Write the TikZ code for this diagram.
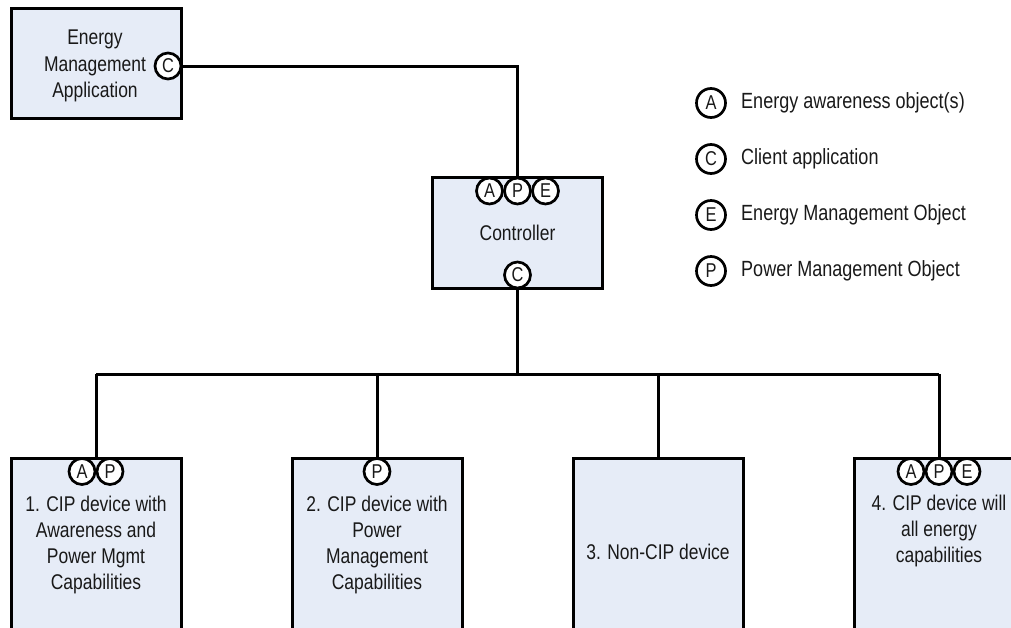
\documentclass[tikz,border=0pt]{standalone}
\usepackage{fontspec}
\setmainfont{Liberation Sans}[FakeStretch=0.82]
\definecolor{boxfill}{RGB}{230,236,247}
\definecolor{ink}{RGB}{25,25,25}
\tikzset{
  box/.style={draw=black, line width=3pt, fill=boxfill, minimum width=170pt, inner sep=0pt},
  obj/.style={circle, draw=black, line width=2.7pt, fill=white, minimum size=26pt, inner sep=0pt, text=ink, font=\fontsize{20}{20}\selectfont},
  legobj/.style={obj, minimum size=29pt},
  lbl/.style={align=center, text=ink, font=\fontsize{21.3}{26.3}\selectfont, inner sep=0pt},
  legtxt/.style={anchor=west, text=ink, font=\fontsize{22}{26}\selectfont, inner sep=0pt},
  wire/.style={line width=3pt, draw=black}
}
\begin{document}
\begin{tikzpicture}[x=1pt,y=-1pt]
\useasboundingbox (0,0) rectangle (1011,627);
\clip (0,0) rectangle (1011,627);
% boxes
\node[box, minimum height=110pt] (ema) at (96,63) {};
\node[box, minimum height=111pt] (ctrl) at (517.5,232.5) {};
\node[box, minimum height=182pt] (d1) at (96,549) {};
\node[box, minimum height=182pt] (d2) at (377,549) {};
\node[box, minimum height=182pt] (d3) at (658,549) {};
\node[box, minimum height=182pt] (d4) at (939,549) {};
% texts
\node[lbl] (emaT) at (95,66) {Energy\\Management\\Application};
\node[lbl] (ctrlT) at (517.5,233) {Controller};
\node[lbl] (d1T) at (96,545) {1. CIP device with\\Awareness and\\Power Mgmt\\Capabilities};
\node[lbl] (d2T) at (377,545) {2. CIP device with\\Power\\Management\\Capabilities};
\node[lbl] (d3T) at (658,552) {3. Non-CIP device};
\node[lbl] (d4T) at (939,531) {4. CIP device will\\all energy\\capabilities};
% wires
\coordinate (busL) at (96,374);
\coordinate (busR) at (939,374);
\draw[wire] (busL) -- (busR);
\draw[wire] (d1.north) -- (busL);
\draw[wire] (d4.north) -- (busR);
\draw[wire] (d2.north) -- (d2.north |- busL);
\draw[wire] (d3.north) -- (d3.north |- busL);
\draw[wire] (ctrl.south) -- (ctrl.south |- busL);
% object circles
\node[obj] (emaC) at (168,66) {C};
\draw[wire] (emaC.east) -| (ctrl.north);
\node[obj] (ctrlA) at (489.5,191) {A};
\node[obj] (ctrlP) at (517.5,191) {P};
\node[obj] (ctrlE) at (545.5,191) {E};
\node[obj] (ctrlC) at (517.5,275) {C};
\node[obj] (d1A) at (82,471.5) {A};
\node[obj] (d1P) at (110,471.5) {P};
\node[obj] (d2P) at (377,471.5) {P};
\node[obj] (d4A) at (911,471.5) {A};
\node[obj] (d4P) at (939,471.5) {P};
\node[obj] (d4E) at (967,471.5) {E};
% legend
\node[legobj] (lA) at (711,103) {A};
\node[legtxt] (lAt) at (741,103) {Energy awareness object(s)};
\node[legobj] (lC) at (711,159) {C};
\node[legtxt] (lCt) at (741,159) {Client application};
\node[legobj] (lE) at (711,215) {E};
\node[legtxt] (lEt) at (741,215) {Energy Management Object};
\node[legobj] (lP) at (711,271) {P};
\node[legtxt] (lPt) at (741,271) {Power Management Object};
\end{tikzpicture}
\end{document}
